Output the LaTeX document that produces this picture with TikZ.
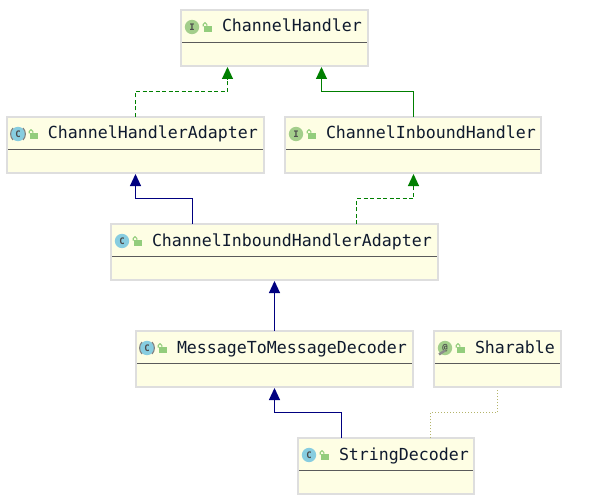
\documentclass[tikz,border=0pt]{standalone}
\usepackage{fontspec}
\setmonofont{DejaVu Sans Mono}
\usetikzlibrary{arrows.meta,calc}
\definecolor{boxfill}{HTML}{FEFEE4}
\definecolor{boxedge}{HTML}{DEDEDE}
\definecolor{rule}{HTML}{5A5A5A}
\definecolor{inkgreen}{HTML}{007F00}
\definecolor{inknavy}{HTML}{000080}
\definecolor{inkdots}{HTML}{B4B46A}
\definecolor{lockgreen}{HTML}{93CD7C}
\definecolor{ifacegreen}{HTML}{A3CE8B}
\definecolor{classblue}{HTML}{87CDE0}
\definecolor{titleink}{HTML}{0F1A2E}
\tikzset{
  umlbox/.style={draw=boxedge,fill=boxfill,line width=2pt,rectangle,inner sep=0pt,outer sep=0pt,anchor=north west},
  umltitle/.style={anchor=base west,inner sep=0pt,outer sep=0pt,text=titleink,font=\ttfamily\fontsize{16.6}{20}\selectfont},
  divider/.style={draw=rule,line width=1pt},
  iconletter/.style={inner sep=0pt,outer sep=0pt,text=black!70,font=\ttfamily\bfseries\fontsize{9}{9}\selectfont},
  tipgreen/.style={-{Triangle[width=11pt,length=12pt]},draw=inkgreen,line width=1.1pt},
  tipnavy/.style={-{Triangle[width=11pt,length=12pt]},draw=inknavy,line width=1.1pt},
  realize/.style={dash pattern=on 4pt off 2.5pt},
  dotlink/.style={draw=inkdots,line width=1pt,dash pattern=on 1pt off 2pt},
  bracket/.style={draw=black!50,line width=1.1pt},
}
% name, x0, y0, x1, y1, circle colour, letter, title
\newcommand{\umlclass}[8]{%
  \node[umlbox,minimum width={(#4-#2)*1pt},minimum height={(#5-#3)*1pt}] (#1) at (#2,#3) {};
  \draw[divider] (#2+1,#3+32.5) -- (#4-1,#3+32.5);
  \fill[#6] (#2+11,#3+17) circle[radius=7.2pt];
  \node[iconletter] (#1letter) at (#2+11,#3+17) {#7};
  \fill[lockgreen] (#2+23,#3+15.6) rectangle (#2+30.6,#3+21.6);
  \draw[lockgreen,line width=1.1pt] (#2+25.8,#3+16) -- (#2+25.8,#3+14.4) .. controls (#2+25.8,#3+12.2) and (#2+22.2,#3+12.2) .. (#2+22.2,#3+14.4) -- (#2+22.2,#3+16.5);
  \node[umltitle] (#1title) at (#2+41,#3+22) {#8};
}
\begin{document}
\begin{tikzpicture}[x=1pt,y=-1pt]
\useasboundingbox (0,0) rectangle (590,503);
\fill[white] (0,0) rectangle (590,503);

\umlclass{ch}{181}{10}{368}{66}{ifacegreen}{I}{ChannelHandler}
\umlclass{cha}{7}{117}{264}{173}{classblue}{C}{ChannelHandlerAdapter}
\umlclass{cih}{285}{117}{541}{173}{ifacegreen}{I}{ChannelInboundHandler}
\umlclass{ciha}{111}{224}{438}{280}{classblue}{C}{ChannelInboundHandlerAdapter}
\umlclass{mtmd}{136}{331}{413}{387}{classblue}{C}{MessageToMessageDecoder}
\umlclass{shr}{434}{331}{561}{387}{ifacegreen}{@}{Sharable}
\umlclass{sd}{298}{438}{474}{494}{classblue}{C}{StringDecoder}

% abstract-class brackets and annotation pin
\draw[bracket] (13,128) .. controls (9.8,131.5) and (9.8,136.5) .. (13,140);
\draw[bracket] (23,128) .. controls (26.2,131.5) and (26.2,136.5) .. (23,140);
\draw[bracket] (142,342) .. controls (138.8,345.5) and (138.8,350.5) .. (142,354);
\draw[bracket] (152,342) .. controls (155.2,345.5) and (155.2,350.5) .. (152,354);
\draw[black!45,line width=2.4pt] (439,354.5) -- (445,350.5);

% connection points on the box borders
\coordinate (chA) at (ch.south west -| 227.5,0);
\coordinate (chB) at (ch.south west -| 321.5,0);
\coordinate (chaIn) at (cha.south west -| 135.5,0);
\coordinate (chaOut) at (cha.north west -| 135.5,0);
\coordinate (cihIn) at (cih.south west -| 413.5,0);
\coordinate (cihOut) at (cih.north west -| 413.5,0);
\coordinate (cihaOutL) at (ciha.north west -| 192.5,0);
\coordinate (cihaOutR) at (ciha.north west -| 356.5,0);
\coordinate (cihaIn) at (ciha.south west -| 274.5,0);
\coordinate (mtmdOut) at (mtmd.north west -| 274.5,0);
\coordinate (mtmdIn) at (mtmd.south west -| 274.5,0);
\coordinate (shrIn) at (shr.south west -| 497.5,0);
\coordinate (sdOutL) at (sd.north west -| 341.5,0);
\coordinate (sdOutR) at (sd.north west -| 430.5,0);

\draw[tipgreen,realize] (chaOut) -- (135.5,91.5) -- (227.5,91.5) -- ($(chA)+(0,1)$);
\draw[tipgreen] (cihOut) -- (413.5,91.5) -- (321.5,91.5) -- ($(chB)+(0,1)$);
\draw[tipnavy] (cihaOutL) -- (192.5,198.5) -- (135.5,198.5) -- ($(chaIn)+(0,1)$);
\draw[tipgreen,realize] (cihaOutR) -- (356.5,198.5) -- (413.5,198.5) -- ($(cihIn)+(0,1)$);
\draw[tipnavy] (mtmdOut) -- ($(cihaIn)+(0,1)$);
\draw[tipnavy] (sdOutL) -- (341.5,412.5) -- (274.5,412.5) -- ($(mtmdIn)+(0,1)$);
\draw[dotlink] (sdOutR) -- (430.5,412.5) -- (497.5,412.5) -- ($(shrIn)+(0,2)$);
\end{tikzpicture}
\end{document}
